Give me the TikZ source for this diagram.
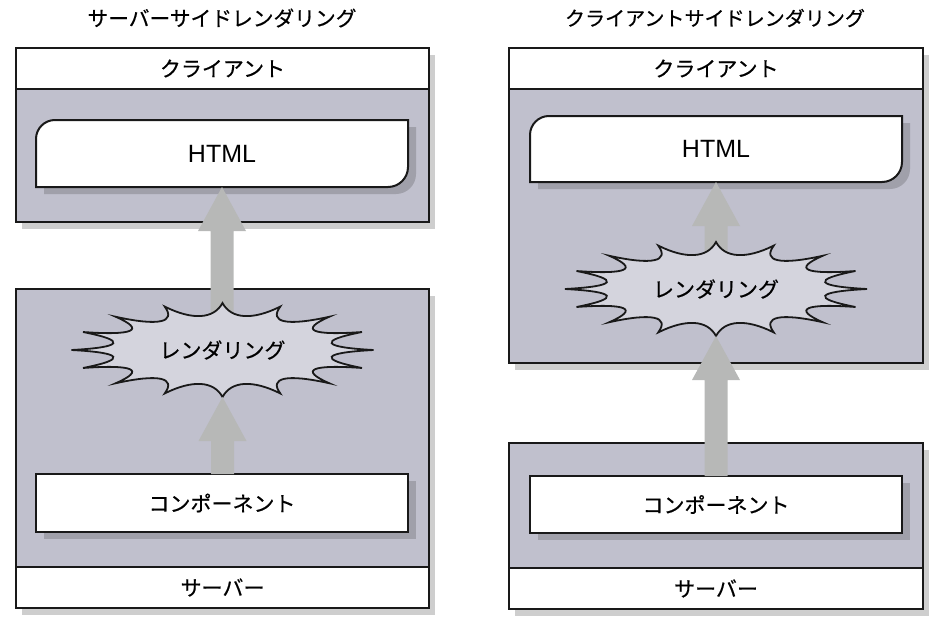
\documentclass[tikz,border=0pt]{standalone}
\usepackage{graphicx}
\usepackage{fontspec}
\setmainfont{Noto Sans CJK JP}[FakeBold=0.5]
\newfontfamily\latinfont{Liberation Sans}
\usetikzlibrary{calc,shadows}
\pgfdeclarelayer{back}
\pgfdeclarelayer{mid}
\pgfsetlayers{back,mid,main}
\definecolor{bodygray}{RGB}{192,192,205}
\definecolor{burstgray}{RGB}{212,212,221}
\definecolor{arrowgray}{RGB}{183,184,183}
\definecolor{ishadow}{RGB}{160,160,170}
\definecolor{oshadow}{RGB}{206,206,206}
\newcommand\blockarrow[2]{%
  \fill[arrowgray] let \p1=(#1), \p2=(#2) in
    (\x2,\y2) -- (\x2+24pt,\y2-44pt) -- (\x2+11.5pt,\y2-44pt) -- (\x2+11.5pt,\y1)
    -- (\x2-11.5pt,\y1) -- (\x2-11.5pt,\y2-44pt) -- (\x2-24pt,\y2-44pt) -- cycle;}
\tikzset{
  boxline/.style={draw=black!90, line width=2pt},
  jp/.style={font=\fontsize{21}{25}\selectfont},
  titletext/.style={font=\fontsize{21}{25}\selectfont, inner sep=0pt},
  outershadow/.style={general shadow={fill=oshadow, shadow xshift=6pt, shadow yshift=-7pt}},
  innershadow/.style={general shadow={fill=ishadow, shadow xshift=8pt, shadow yshift=-7pt}},
  band/.style={boxline, fill=white, outershadow, jp, anchor=north west,
    minimum width=413pt, minimum height=41pt, inner sep=0pt, outer sep=0pt},
  body/.style={boxline, fill=bodygray, outershadow, anchor=north west,
    minimum width=413pt, inner sep=0pt, outer sep=0pt},
  compbox/.style={boxline, fill=white, innershadow, jp, anchor=north west,
    minimum width=372pt, inner sep=0pt, outer sep=0pt},
  htmlbox/.style={anchor=north west, minimum width=372pt, inner sep=0pt, outer sep=0pt,
    font=\latinfont\fontsize{25}{30}\selectfont},
  htmlshape/.style={insert path={(#1.north east) -- ($(#1.south east)+(0pt,20pt)$)
    arc[start angle=0, end angle=-90, radius=20pt] -- (#1.south west)
    -- ($(#1.north west)+(0pt,-19pt)$) arc[start angle=180, end angle=90, radius=19pt] -- cycle}},
  burstline/.style={draw=black!90, line width=1.8pt, fill=burstgray},
  bursttext/.style={jp, minimum width=302pt, minimum height=94pt, inner sep=0pt, outer sep=0pt},
  burstshape/.pic={
    \draw[burstline] (0:151pt and 47pt)
      \foreach \i in {0,...,15} {
        .. controls ({\i*22.5+5}:99.7pt and 31pt) and ({\i*22.5+17.5}:99.7pt and 31pt)
        .. ({(\i+1)*22.5}:151pt and 47pt)
      } -- cycle;
  }
}
\begin{document}
\begin{tikzpicture}[x=1pt,y=-1pt]
\useasboundingbox (0,0) rectangle (942,629);

% titles
\node[titletext] (titleL) at (222,18) {\resizebox{269pt}{!}{サーバーサイドレンダリング}};
\node[titletext] (titleR) at (715,18) {\resizebox{300pt}{!}{クライアントサイドレンダリング}};

% outer boxes
\begin{pgfonlayer}{back}
  \node[band] (cliLh) at (16,48) {クライアント};
  \node[body, minimum height=133pt] (cliLb) at (16,89) {};
  \node[body, minimum height=278pt] (srvLb) at (16,289) {};
  \node[band] (srvLf) at (16,567) {サーバー};

  \node[band, minimum width=414pt] (cliRh) at (509,48) {クライアント};
  \node[body, minimum width=414pt, minimum height=274pt] (cliRb) at (509,89) {};
  \node[body, minimum width=414pt, minimum height=125pt] (srvRb) at (509,443) {};
  \node[band, minimum width=414pt] (srvRf) at (509,568) {サーバー};
\end{pgfonlayer}

% HTML boxes
\node[htmlbox, minimum height=67pt] (htmlL) at (36,120) {HTML};
\node[htmlbox, minimum height=66pt] (htmlR) at (530,116) {HTML};
\begin{pgfonlayer}{mid}
  \fill[ishadow, transform canvas={shift={(8pt,-7pt)}}] [htmlshape=htmlL];
  \draw[boxline, fill=white] [htmlshape=htmlL];
  \fill[ishadow, transform canvas={shift={(8pt,-7pt)}}] [htmlshape=htmlR];
  \draw[boxline, fill=white] [htmlshape=htmlR];
\end{pgfonlayer}

% component boxes
\node[compbox, minimum height=58pt] (compL) at (36,474) {コンポーネント};
\node[compbox, minimum height=57pt] (compR) at (530,476) {コンポーネント};

% left: rendering on server
\coordinate (bLc) at (222.5,350);
\blockarrow{bLc}{htmlL.south}
\pic at (bLc) {burstshape};
\node[bursttext] (burstL) at (bLc) {レンダリング};
\blockarrow{compL.north}{burstL.south}

% right: rendering on client
\coordinate (bRc) at (716,289);
\blockarrow{bRc}{htmlR.south}
\pic at (bRc) {burstshape};
\node[bursttext] (burstR) at (bRc) {レンダリング};
\blockarrow{compR.north}{burstR.south}
\end{tikzpicture}
\end{document}
